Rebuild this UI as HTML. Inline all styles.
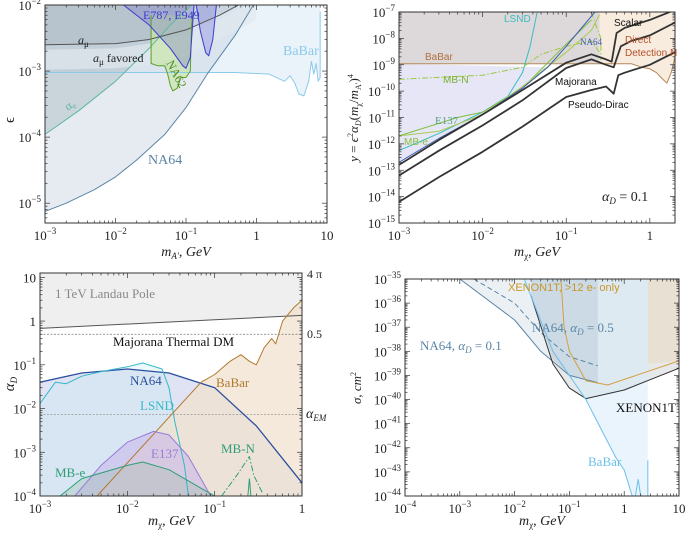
<!DOCTYPE html>
<html><head><meta charset="utf-8">
<style>
html,body{margin:0;padding:0;background:#fff;}
svg{display:block;font-family:"Liberation Serif","DejaVu Serif",serif;}
.sans{font-family:"Liberation Sans","DejaVu Sans",sans-serif;}
</style></head>
<body>
<svg id="fig" width="685" height="533" viewBox="0 0 685 533" xmlns="http://www.w3.org/2000/svg"></svg>
<script>
// ---------- Panel 1 data (m_A' GeV, epsilon) ----------
const p1_na64_m=[1e-3,2e-3,5e-3,1e-2,2e-2,5e-2,0.1,0.2,0.5,0.9];
const p1_na64_eps=[7.5e-6,1e-5,1.6e-5,2.5e-5,4.5e-5,1.1e-4,2.8e-4,9e-4,3.5e-3,1e-2];
const p1_babar_m=[1e-3,0.5,1.5,2.5,3,3.5,4,4.7,5.5,6,6.5,7,7.5,8];
const p1_babar_eps=[9.5e-4,9.5e-4,9e-4,7e-4,8.5e-4,6.5e-4,4.5e-4,4.2e-4,7e-4,1.4e-3,9e-4,1.3e-3,7e-4,8e-4];
const p1_ae_m=[1e-3,3e-3,1e-2,3e-2,0.06,0.12];
const p1_ae_eps=[1.1e-4,2.5e-4,7e-4,2.2e-3,5e-3,1e-2];
const p1_amu_m=[1e-3,1e-2,0.03,0.1,0.3,1];
const p1_amu_eps=[2.5e-3,2.6e-3,3e-3,4.2e-3,7e-3,1.4e-2];
const p1_band_lo=[1.05e-3,1.1e-3,1.25e-3,1.7e-3,3e-3,6e-3];
const p1_band_hi=[2.1e-3,2.2e-3,2.6e-3,3.6e-3,6e-3,1.2e-2];
const p1_e787_m=[0.013,0.03,0.06,0.09,0.1,0.115,0.13];
const p1_e787_eps=[1e-2,5e-3,2.2e-3,1.2e-3,1.1e-3,1.6e-3,1e-2];
const p1_e949_m=[0.14,0.16,0.19,0.21,0.24,0.27];
const p1_e949_eps=[1e-2,4e-3,1.9e-3,1.7e-3,3e-3,1e-2];
const p1_na62_m=[0.032,0.032,0.04,0.05,0.055,0.06,0.065,0.075,0.085,0.1,0.115,0.12,0.125,0.13];
const p1_na62_eps=[7e-3,1.3e-3,1.2e-3,1.2e-3,9e-4,6e-4,5e-4,5.5e-4,8e-4,8e-4,1e-3,5e-3,7e-3,7e-3];
// ---------- Panel 2 data (m_chi GeV, y) ----------
const p2_scalar_m=[1e-3,3e-3,1e-2,3e-2,0.1,0.2,0.3,0.35,0.4,0.5,1,2];
const p2_scalar_y=[1.6e-13,1.4e-12,1.3e-11,1.1e-10,1.2e-9,2.5e-9,1.6e-9,1.3e-9,1.6e-8,2.5e-8,5e-8,1.2e-7];
const p2_major_m=[1e-3,3e-3,1e-2,3e-2,0.1,0.2,0.3,0.37,0.45,0.6,1,2];
const p2_major_y=[6.3e-14,5.5e-13,5e-12,4.5e-11,7.5e-10,1.6e-9,1e-9,8e-10,5e-9,8e-9,1.3e-8,4e-8];
const p2_pseudo_m=[1e-3,3e-3,1e-2,3e-2,0.1,0.2,0.3,0.37,0.42,0.5,0.7,1,2];
const p2_pseudo_y=[6.3e-15,5.5e-14,5e-13,4.5e-12,6e-11,1.1e-10,1.5e-10,8e-11,4e-10,5e-10,7e-10,1e-9,3e-9];
const p2_na64_m=[1e-3,3e-3,1e-2,3e-2,0.06,0.1,0.22];
const p2_na64_y=[2e-13,1.6e-12,1.3e-11,1.3e-10,8e-10,5e-9,1e-7];
const p2_lsnd_m=[1e-3,3e-3,1e-2,2e-2,3e-2,0.037,0.045];
const p2_lsnd_y=[5.6e-13,2.5e-12,1.6e-11,6.3e-11,5e-10,5e-9,1e-7];
const p2_e137_m=[1e-3,5e-3,1e-2,3e-2,0.1,0.2];
const p2_e137_y=[2e-12,1e-11,1.6e-11,1.3e-10,6e-9,5e-8];
const p2_mbe_m=[1e-3,3e-3,1e-2,3e-2,0.1,0.2,0.25];
const p2_mbe_y=[2e-12,3e-12,1.3e-11,1.5e-10,3e-9,2e-8,8e-8];
const p2_mbn_m=[1e-3,1e-2,3e-2,5e-2,0.1,0.2,0.25];
const p2_mbn_y=[2.8e-10,4e-10,8e-10,2.5e-9,5e-9,8e-9,3e-9];
const p2_babar_m=[1e-3,0.6,0.8,1,1.2,1.4,1.6,1.8,2];
const p2_babar_y=[1.1e-9,1.1e-9,8e-10,7e-10,5e-10,3e-10,2e-10,5e-10,2e-9];
// ---------- Panel 3 data (m_chi GeV, alpha_D) ----------
const p3_landau_m=[1e-3,1];
const p3_landau_a=[0.68,1.35];
const p3_na64_m=[1e-3,3e-3,1e-2,3e-2,0.1,0.3,1];
const p3_na64_a=[0.04,0.065,0.08,0.065,0.03,0.004,2e-4];
const p3_lsnd_m=[1e-3,1.5e-3,2e-3,3e-3,5e-3,1e-2,1.5e-2,2.5e-2,3e-2,3.5e-2,4.5e-2,5e-2];
const p3_lsnd_a=[0.013,0.04,0.037,0.055,0.07,0.09,0.11,0.08,0.03,0.005,5e-4,1e-4];
const p3_babar_m=[4.5e-3,0.07,0.1,0.15,0.2,0.25,0.3,0.37,0.45,0.5,0.6,0.8,1];
const p3_babar_a=[1e-4,0.04,0.06,0.12,0.17,0.12,0.1,0.25,0.4,0.3,1.0,2,3];
const p3_e137_m=[2.5e-3,5e-3,1e-2,2e-2,3e-2,5e-2,9e-2];
const p3_e137_a=[1e-4,5e-4,1.7e-3,3e-3,2.5e-3,8e-4,1e-4];
const p3_mbe_m=[1.7e-3,3e-3,1e-2,1.5e-2,3e-2,0.07,0.1];
const p3_mbe_a=[1e-4,2.5e-4,5e-4,6e-4,4e-4,1.5e-4,1e-4];
const p3_mbn_m=[0.12,0.18,0.25,0.28,0.35];
const p3_mbn_a=[1e-4,3e-4,8e-4,3e-4,1.2e-4];
// ---------- Panel 4 data (m_chi GeV, sigma cm^2) ----------
const p4_na01_m=[1e-3,1e-2,0.03,0.1,0.33];
const p4_na01_s=[1e-35,2e-37,1e-38,1e-39,5e-40];
const p4_na05_m=[1.8e-3,1e-2,0.03,0.1,0.33];
const p4_na05_s=[1e-35,1e-36,6e-38,6e-39,2.5e-39];
const p4_xe_m=[0.02,0.05,0.1,0.2,1,10];
const p4_xe_s=[2e-36,3e-39,3e-40,1.1e-40,2.5e-40,2e-39];
const p4_xo_m=[0.07,0.08,0.1,0.2,0.5,10];
const p4_xo_s=[1e-35,1e-37,1e-38,6e-40,4e-40,4e-39];
const p4_bb_m=[0.015,0.05,0.2,0.7,1,1.4];
const p4_bb_s=[1e-35,1e-38,1e-40,4e-43,1.2e-43,1e-44];
const p4_band_m=[0.02,0.05,0.1,0.2,0.33];
const p4_band_s=[2e-36,5e-39,1e-39,7e-40,5e-40];

const NS="http://www.w3.org/2000/svg";
const fig=document.getElementById('fig');
function mk(tag,attrs,parent){const e=document.createElementNS(NS,tag);for(const k in attrs)e.setAttribute(k,attrs[k]);(parent||fig).appendChild(e);return e;}
const lg=Math.log10;
function panel(o){o.X=v=>o.L+(lg(v)-o.x0)/(o.x1-o.x0)*(o.R-o.L);o.Y=v=>o.B-(lg(v)-o.y0)/(o.y1-o.y0)*(o.B-o.T);
 const cp=mk('clipPath',{id:o.id});mk('rect',{x:o.L,y:o.T,width:o.R-o.L,height:o.B-o.T},cp);
 o.g=mk('g',{'clip-path':'url(#'+o.id+')'});return o;}
function pts(p,xs,ys){return xs.map((x,i)=>p.X(x).toFixed(1)+','+p.Y(ys[i]).toFixed(1));}
function line(p,xs,ys,st,name,dash,w){const e=mk('polyline',{points:pts(p,xs,ys).join(' '),fill:'none',stroke:st,'stroke-width':w||1,'stroke-dasharray':dash||'none','stroke-linejoin':'round'},p.g);
 
 return e;}
function area(p,xs,ys,fill,side,name){let a=pts(p,xs,ys);const xl=p.X(xs[0]),xr=p.X(xs[xs.length-1]);
 const yy=side==='top'?p.T-5:p.B+5;a.push(xr.toFixed(1)+','+yy,xl.toFixed(1)+','+yy);
 const e=mk('polygon',{points:a.join(' '),fill:fill},p.g);
 
 return e;}
function poly(p,xs,ys,fill,name){const e=mk('polygon',{points:pts(p,xs,ys).join(' '),fill:fill},p.g);
 
 return e;}
function txt(x,y,s,o){o=o||{};const e=mk('text',{x:x,y:y,'font-size':o.fs||13,fill:o.c||'#222','text-anchor':o.a||'start'});
 if(o.cls)e.setAttribute('class',o.cls);if(o.rot)e.setAttribute('transform','rotate('+o.rot+' '+x+' '+y+')');
 e.innerHTML=s;
 return e;}
function sup(b,e){return b+'<tspan dy="-6" font-size="9">'+e+'</tspan>';}
function frame(p,xt,yt){
 const r=mk('rect',{x:p.L,y:p.T,width:p.R-p.L,height:p.B-p.T,fill:'none',stroke:'#333','stroke-width':1});
 
 
 for(let d=Math.floor(p.x0);d<=Math.ceil(p.x1);d++)for(let k=1;k<10;k++){const v=k*Math.pow(10,d);if(lg(v)<p.x0-1e-9||lg(v)>p.x1+1e-9)continue;
  const x=p.X(v),len=k===1?5:2.5;mk('line',{x1:x,x2:x,y1:p.B,y2:p.B-len,stroke:'#333','stroke-width':0.7});mk('line',{x1:x,x2:x,y1:p.T,y2:p.T+len,stroke:'#333','stroke-width':0.7});}
 for(let d=Math.floor(p.y0);d<=Math.ceil(p.y1);d++)for(let k=1;k<10;k++){const v=k*Math.pow(10,d);if(lg(v)<p.y0-1e-9||lg(v)>p.y1+1e-9)continue;
  const y=p.Y(v),len=k===1?5:2.5;mk('line',{y1:y,y2:y,x1:p.L,x2:p.L+len,stroke:'#333','stroke-width':0.7});mk('line',{y1:y,y2:y,x1:p.R,x2:p.R-len,stroke:'#333','stroke-width':0.7});}
 xt.forEach(t=>txt(p.X(t[0]),p.B+17,t[1],{a:'middle',n:'x-tick-label'}));
 yt.forEach(t=>txt(p.L-4,p.Y(t[0])+5,t[1],{a:'end',n:'y-tick-label'}));
}
function decTicks(a,b){const r=[];for(let d=a;d<=b;d++){r.push([Math.pow(10,d),d===0?'1':d===1?'10':sup('10','−'+(-d))]);}return r;}

// ===== Panel 1 =====
const P1=panel({id:'c1',L:45,R:327,T:5,B:223,x0:-3,x1:1,y0:-5.3,y1:-2});
area(P1,p1_babar_m,p1_babar_eps,'#eaf3fa','top','babar-region');
area(P1,p1_na64_m,p1_na64_eps,'rgba(200,210,225,0.45)','top','na64-region');
area(P1,p1_ae_m,p1_ae_eps,'rgba(140,160,170,0.30)','top','ae-region');
poly(P1,p1_amu_m.concat(p1_amu_m.slice().reverse()),p1_band_lo.concat(p1_band_hi.slice().reverse()),'rgba(225,232,238,0.7)','amu-favored-band');
area(P1,p1_amu_m,p1_amu_eps,'rgba(150,165,175,0.25)','top','amu-region');
poly(P1,p1_na62_m,p1_na62_eps,'rgba(200,230,170,0.7)','na62-region');
poly(P1,p1_e787_m,p1_e787_eps,'rgba(120,120,200,0.35)','e787-region');
poly(P1,p1_e949_m,p1_e949_eps,'rgba(120,120,220,0.35)','e949-region');
line(P1,p1_babar_m,p1_babar_eps,'#8ccaea','babar-line');
mk('line',{x1:P1.X(8),x2:P1.X(8),y1:P1.Y(8e-4),y2:P1.Y(8e-3),stroke:'#8ccaea'},P1.g);
line(P1,p1_na64_m,p1_na64_eps,'#5b85a5','na64-line');
line(P1,p1_ae_m,p1_ae_eps,'#5fb8a0','ae-line');
line(P1,p1_amu_m,p1_amu_eps,'#555','amu-line');
line(P1,p1_na62_m,p1_na62_eps,'#5aa02a','na62-line');
line(P1,p1_e787_m,p1_e787_eps,'#3b3bd0','e787-line');
line(P1,p1_e949_m,p1_e949_eps,'#3b3bd0','e949-line');
frame(P1,decTicks(-3,1),decTicks(-5,-2));
txt(78,44,'<tspan font-style="italic">a</tspan><tspan dy="3" font-size="9">μ</tspan>',{fs:12,n:'amu-label'});
txt(93,62,'<tspan font-style="italic">a</tspan><tspan dy="3" font-size="9">μ</tspan><tspan dy="-3"> favored</tspan>',{fs:12,n:'amu-favored-label'});
txt(143,19,'E787, E949',{fs:12,c:'#3b3bd0',n:'e787-label'});
txt(166,63,'NA62',{fs:12,c:'#4a8a20',rot:62,n:'na62-label'});
txt(68,111,'α<tspan font-size="8" dy="2">e</tspan>',{fs:12,c:'#5fb8a0',rot:-35,n:'ae-label'});
txt(283,55,'BaBar',{fs:14,c:'#8ccaea',n:'babar-label'});
txt(148,164,'NA64',{fs:14,c:'#5b85a5',n:'na64-label'});
txt(14,120,'ϵ',{fs:15,n:'y-axis-title',rot:-90,a:'middle'});
txt(186,256,'<tspan font-style="italic">m</tspan><tspan font-size="9" dy="3" font-style="italic">A′</tspan><tspan dy="-3">, </tspan><tspan font-style="italic">GeV</tspan>',{fs:14,a:'middle',n:'x-axis-title'});

// ===== Panel 2 =====
const P2=panel({id:'c2',L:399,R:675,T:12,B:223,x0:-3,x1:Math.log10(2),y0:-15,y1:-7});
area(P2,[1e-3,0.25],[1.1e-9,1.1e-9],'#ddd8da','top','excluded-gray-region');
area(P2,[0.25].concat(p2_babar_m.filter(m=>m>0.25)),[1.1e-9].concat(p2_babar_y.filter((y,i)=>p2_babar_m[i]>0.25)),'#f8ecdf','top','direct-detection-region');
poly(P2,[1e-3].concat(p2_na64_m.filter(m=>m<=0.06)),[1.1e-9].concat(p2_na64_y.filter((y,i)=>p2_na64_m[i]<=0.06)),'#e6e6f6','na64-lavender-region');
poly(P2,[1e-3,1e-3,3e-3,1e-2],[1.1e-9,2e-12,1e-11,1.6e-11],'#e6e6f6','e137-region');
line(P2,p2_babar_m,p2_babar_y,'#b5875a','babar-line');
line(P2,p2_lsnd_m,p2_lsnd_y,'#3cbcc0','lsnd-line');
line(P2,p2_e137_m,p2_e137_y,'#7cc040','e137-line');
line(P2,p2_mbe_m,p2_mbe_y,'#a8cc50','mbe-line');
line(P2,p2_mbn_m,p2_mbn_y,'#9cc840','mbn-line','6,2,1.5,2');
mk('polyline',{points:P2.X(0.2)+','+P2.Y(1e-7)+' '+P2.X(0.22)+','+P2.Y(4e-8)+' '+P2.X(0.26)+','+P2.Y(1e-8)+' '+P2.X(0.26)+','+P2.Y(1.5e-9),fill:'none',stroke:'#9cc840','stroke-dasharray':'6,2,1.5,2'},P2.g);
line(P2,p2_na64_m,p2_na64_y,'#3a5ab0','na64-line');
line(P2,p2_scalar_m,p2_scalar_y,'#333','scalar-line',null,1.8);
line(P2,p2_major_m,p2_major_y,'#333','majorana-line',null,1.8);
line(P2,p2_pseudo_m,p2_pseudo_y,'#333','pseudo-dirac-line',null,1.8);
frame(P2,[[1e-3,sup('10','−3')],[1e-2,sup('10','−2')],[1e-1,sup('10','−1')],[1,'1']],decTicks(-15,-7));
txt(504,22,'LSND',{fs:10,c:'#3cbcc0',cls:'sans',n:'lsnd-label'});
txt(425,60,'BaBar',{fs:10,c:'#b07040',cls:'sans',n:'babar-label'});
txt(443,83,'MB-N',{fs:10,c:'#7ab030',cls:'sans',n:'mbn-label'});
txt(580,45,'NA64',{fs:9,c:'#3a5ab0',n:'na64-label'});
txt(614,26,'Scalar',{fs:10,c:'#111',cls:'sans',n:'scalar-label'});
txt(625,43,'Direct',{fs:10,c:'#b5502a',cls:'sans',n:'direct-label'});
txt(625,56,'Detection N',{fs:10,c:'#b5502a',cls:'sans',n:'direct-label-2'});
txt(555,85,'Majorana',{fs:10,c:'#111',cls:'sans',n:'majorana-label'});
txt(568,108,'Pseudo-Dirac',{fs:10,c:'#111',cls:'sans',n:'pseudo-dirac-label'});
txt(435,124,'E137',{fs:11,c:'#5aa080',n:'e137-label'});
txt(404,145,'MB-e',{fs:10,c:'#8cc040',cls:'sans',n:'mbe-label'});
txt(602,201,'<tspan font-style="italic">α</tspan><tspan font-size="9" dy="3" font-style="italic">D</tspan><tspan dy="-3"> = 0.1</tspan>',{fs:14,n:'alpha-d-annotation'});
txt(358,118,'<tspan font-style="italic">y</tspan> = <tspan font-style="italic">ϵ</tspan><tspan font-size="8" dy="-5">2</tspan><tspan dy="5" font-style="italic">α</tspan><tspan font-size="8" dy="3" font-style="italic">D</tspan><tspan dy="-3">(</tspan><tspan font-style="italic">m</tspan><tspan font-size="8" dy="3">χ</tspan><tspan dy="-3">/</tspan><tspan font-style="italic">m</tspan><tspan font-size="8" dy="3">A′</tspan><tspan dy="-3">)</tspan><tspan font-size="8" dy="-5">4</tspan>',{fs:13,a:'middle',rot:-90,n:'y-axis-title'});
txt(537,256,'<tspan font-style="italic">m</tspan><tspan font-size="9" dy="3">χ</tspan><tspan dy="-3">, </tspan><tspan font-style="italic">GeV</tspan>',{fs:14,a:'middle',n:'x-axis-title'});

// ===== Panel 3 =====
const P3=panel({id:'c3',L:40,R:302,T:273,B:496,x0:-3,x1:0,y0:-4,y1:Math.log10(4*Math.PI)});
area(P3,p3_landau_m,p3_landau_a,'#efefef','top','landau-pole-region');
area(P3,p3_na64_m,p3_na64_a,'#dfe3f3','bottom','na64-region');
area(P3,p3_lsnd_m,p3_lsnd_a,'rgba(200,235,240,0.35)','bottom','lsnd-region');
area(P3,p3_babar_m.concat([1]),p3_babar_a.concat([1e-5]),'rgba(240,225,205,0.75)','bottom','babar-region');
area(P3,p3_e137_m,p3_e137_a,'rgba(200,180,235,0.55)','bottom','e137-region');
area(P3,p3_mbe_m,p3_mbe_a,'rgba(150,190,160,0.3)','bottom','mbe-region');
mk('line',{x1:P3.L,x2:P3.R,y1:P3.Y(0.5),y2:P3.Y(0.5),stroke:'#777','stroke-width':0.7,'stroke-dasharray':'2,1.5'},P3.g);
mk('line',{x1:P3.L,x2:P3.R,y1:P3.Y(0.0073),y2:P3.Y(0.0073),stroke:'#999','stroke-width':0.7,'stroke-dasharray':'2,1.5'},P3.g);
line(P3,p3_landau_m,p3_landau_a,'#555','landau-line');
line(P3,p3_na64_m,p3_na64_a,'#2a4fa0','na64-line',null,1.3);
line(P3,p3_lsnd_m,p3_lsnd_a,'#35b8c8','lsnd-line');
line(P3,p3_babar_m,p3_babar_a,'#b07a30','babar-line');
line(P3,p3_e137_m,p3_e137_a,'#9a7ad8','e137-line');
line(P3,p3_mbe_m,p3_mbe_a,'#2e9e78','mbe-line');
line(P3,p3_mbn_m,p3_mbn_a,'#2e9e78','mbn-line','6,2,1.5,2');
mk('polyline',{points:P3.X(0.24)+','+P3.B+' '+P3.X(0.25)+','+P3.Y(2.5e-4)+' '+P3.X(0.26)+','+P3.B,fill:'none',stroke:'#2e9e78'},P3.g);
frame(P3,[[1e-3,sup('10','−3')],[1e-2,sup('10','−2')],[1e-1,sup('10','−1')],[1,'1']],[[1e-4,sup('10','−4')],[1e-3,sup('10','−3')],[1e-2,sup('10','−2')],[1e-1,sup('10','−1')],[1,'1'],[10,'10']]);
txt(55,298,'1 TeV Landau Pole',{fs:13,c:'#888',n:'landau-label'});
txt(113,346,'Majorana Thermal DM',{fs:13,c:'#111',n:'majorana-thermal-label'});
txt(130,385,'NA64',{fs:13,c:'#2a4fa0',n:'na64-label'});
txt(140,410,'LSND',{fs:13,c:'#35b8c8',n:'lsnd-label'});
txt(216,387,'BaBar',{fs:13,c:'#b07a30',n:'babar-label'});
txt(151,458,'E137',{fs:13,c:'#9a7ad8',n:'e137-label'});
txt(221,453,'MB-N',{fs:13,c:'#2e9e78',n:'mbn-label'});
txt(55,477,'MB-e',{fs:13,c:'#2e9e78',n:'mbe-label'});
txt(307,278,'4 π',{fs:12,n:'right-label-4pi'});
txt(307,338,'0.5',{fs:12,n:'right-label-half'});
txt(306,418,'<tspan font-style="italic">α</tspan><tspan font-size="9" dy="3" font-style="italic">EM</tspan>',{fs:14,n:'right-label-alpha-em'});
txt(14,384,'<tspan font-style="italic">α</tspan><tspan font-size="9" dy="3" font-style="italic">D</tspan>',{fs:15,a:'middle',rot:-90,n:'y-axis-title'});
txt(171,525,'<tspan font-style="italic">m</tspan><tspan font-size="9" dy="3">χ</tspan><tspan dy="-3">, </tspan><tspan font-style="italic">GeV</tspan>',{fs:14,a:'middle',n:'x-axis-title'});

// ===== Panel 4 =====
const P4=panel({id:'c4',L:405,R:679,T:279,B:496,x0:-4,x1:1,y0:-44,y1:-35});
area(P4,p4_na01_m,p4_na01_s,'rgba(215,225,235,0.5)','top','na64-01-region');
area(P4,p4_xe_m,p4_xe_s,'rgba(205,210,212,0.5)','top','xenon1t-region');
area(P4,p4_bb_m.concat([2.7]),p4_bb_s.concat([1e-45]),'rgba(215,235,250,0.55)','top','babar-region');
area(P4,p4_band_m,p4_band_s,'rgba(150,170,185,0.2)','top','na64-xenon-overlap-band');
area(P4,[2.7,10],[3e-39,4e-39],'rgba(235,215,185,0.45)','top','xenon-e-region');
line(P4,p4_na01_m,p4_na01_s,'#5b85a5','na64-01-line');
line(P4,p4_na05_m,p4_na05_s,'#5b85a5','na64-05-line','5,3');
line(P4,p4_xe_m,p4_xe_s,'#333','xenon1t-line');
line(P4,p4_xo_m,p4_xo_s,'#d4a040','xenon1t-e-line');
line(P4,p4_bb_m,p4_bb_s,'#6cc0ec','babar-line');
mk('polyline',{points:[[1.6,1e-44],[1.8,5e-44],[2,1e-44]].map(q=>P4.X(q[0])+','+P4.Y(q[1])).join(' '),fill:'none',stroke:'#6cc0ec'},P4.g);
mk('line',{x1:P4.X(2.7),x2:P4.X(2.7),y1:P4.B,y2:P4.Y(3e-43),stroke:'#6cc0ec'},P4.g);
frame(P4,[[1e-4,sup('10','−4')],[1e-3,sup('10','−3')],[1e-2,sup('10','−2')],[1e-1,sup('10','−1')],[1,'1'],[10,'10']],decTicks(-44,-35));
txt(508,291,'XENON1T, &gt;12 e- only',{fs:11,c:'#c8962a',cls:'sans',n:'xenon-e-label'});
txt(532,332,'NA64, <tspan font-style="italic">α</tspan><tspan font-size="9" dy="3" font-style="italic">D</tspan><tspan dy="-3"> = 0.5</tspan>',{fs:13,c:'#5b85a5',n:'na64-05-label'});
txt(420,350,'NA64, <tspan font-style="italic">α</tspan><tspan font-size="9" dy="3" font-style="italic">D</tspan><tspan dy="-3"> = 0.1</tspan>',{fs:13,c:'#5b85a5',n:'na64-01-label'});
txt(616,412,'XENON1T',{fs:13,c:'#111',n:'xenon1t-label'});
txt(588,466,'BaBar',{fs:13,c:'#6cc0ec',n:'babar-label'});
txt(361,388,'<tspan font-style="italic">σ</tspan>, <tspan font-style="italic">cm</tspan><tspan font-size="8" dy="-5">2</tspan>',{fs:13,a:'middle',rot:-90,n:'y-axis-title'});
txt(542,525,'<tspan font-style="italic">m</tspan><tspan font-size="9" dy="3">χ</tspan><tspan dy="-3">, </tspan><tspan font-style="italic">GeV</tspan>',{fs:14,a:'middle',n:'x-axis-title'});
</script>
</body></html>
